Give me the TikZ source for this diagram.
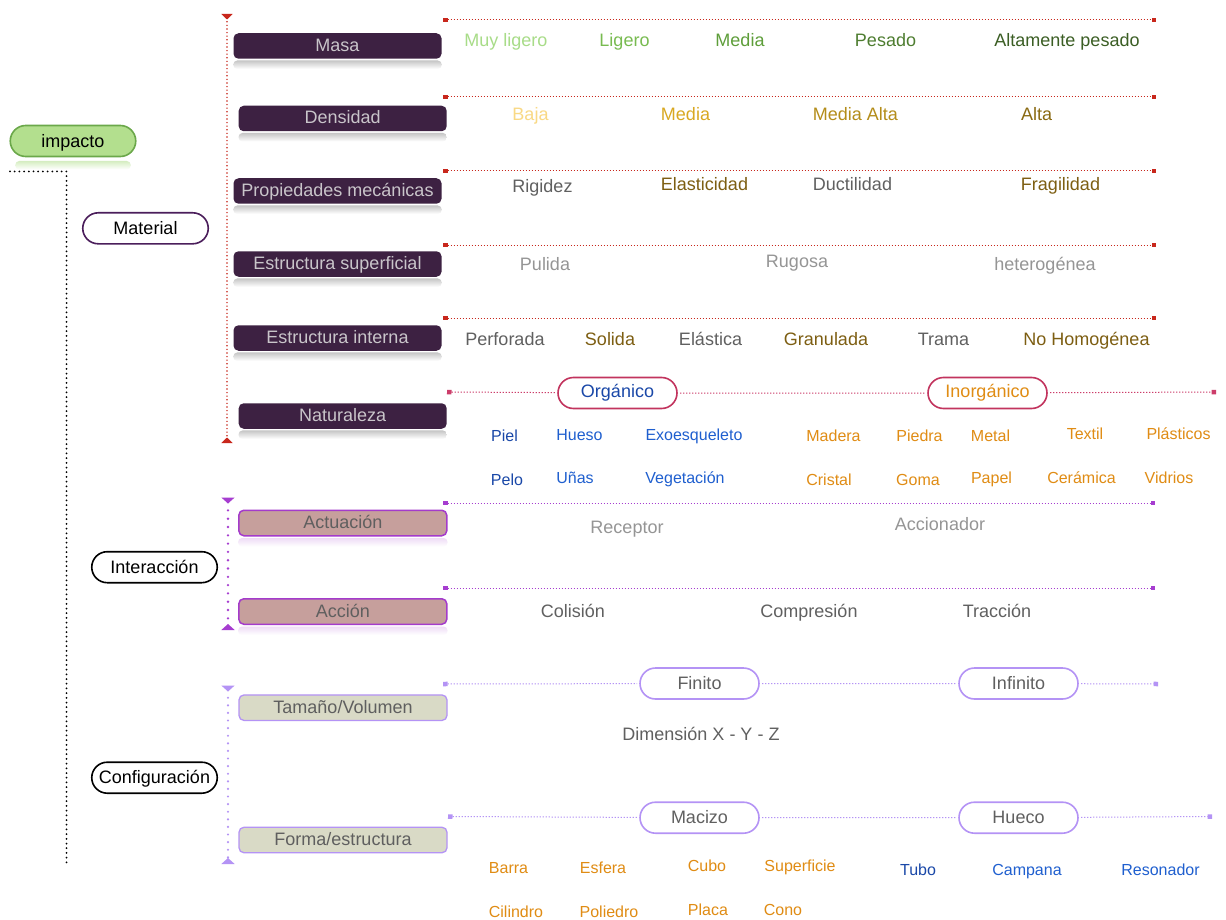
\documentclass[tikz,border=0pt]{standalone}
\usepackage{fontspec}
\setmainfont{Liberation Sans}
\usetikzlibrary{arrows.meta,shapes.misc}

\definecolor{matfill}{HTML}{3D2142}
\definecolor{mattext}{HTML}{C9C5CA}
\definecolor{intfill}{HTML}{C69F9C}
\definecolor{intdraw}{HTML}{A43BCB}
\definecolor{cfgfill}{HTML}{D9DAC6}
\definecolor{cfgdraw}{HTML}{B493F5}
\definecolor{boxgray}{HTML}{5F5F5F}
\definecolor{impfill}{HTML}{B3DF8E}
\definecolor{impdraw}{HTML}{6BA84A}
\definecolor{matpill}{HTML}{4B1E5B}
\definecolor{redline}{HTML}{C8271C}
\definecolor{natline}{HTML}{CC3D6A}
\definecolor{orgdraw}{HTML}{C2345E}
\definecolor{purpline}{HTML}{A63DD0}
\definecolor{lpurp}{HTML}{B493F5}
\definecolor{gA}{HTML}{A8DC88}
\definecolor{gB}{HTML}{78BB50}
\definecolor{gC}{HTML}{5E9E3A}
\definecolor{gD}{HTML}{4E7D30}
\definecolor{gE}{HTML}{3B5E24}
\definecolor{yA}{HTML}{F9D985}
\definecolor{yB}{HTML}{D9A822}
\definecolor{yC}{HTML}{B48D1A}
\definecolor{yD}{HTML}{8A6A12}
\definecolor{brownish}{HTML}{7D5E12}
\definecolor{dgray}{HTML}{606060}
\definecolor{lgray}{HTML}{959595}
\definecolor{blueA}{HTML}{1F5FCF}
\definecolor{blueB}{HTML}{1A48A8}
\definecolor{orangeA}{HTML}{E08C14}

\tikzset{
  every node/.style={font=\fontsize{18}{21}\selectfont, inner sep=0pt},
  boxbase/.style={rectangle, rounded corners=5pt, minimum width=208pt,
    minimum height=25.5pt, text height=13pt, text depth=2pt},
  matbox/.style={boxbase, fill=matfill, text=mattext},
  intbox/.style={boxbase, fill=intfill, draw=intdraw, line width=1.5pt, text=boxgray},
  cfgbox/.style={boxbase, fill=cfgfill, draw=cfgdraw, line width=1.3pt, text=boxgray},
  pill/.style={rounded rectangle, minimum width=119pt, minimum height=31pt,
    line width=1.6pt, fill=white, text height=13pt, text depth=2pt, outer sep=3pt},
  rootpill/.style={pill, text depth=0pt, minimum width=125.5pt},
  item/.style={anchor=base},
  smallitem/.style={anchor=base, font=\fontsize{16}{19}\selectfont},
  blackdots/.style={draw=black, line width=2pt, dash pattern=on 0pt off 4.7pt, line cap=round},
  vred/.style={draw=redline, line width=1.6pt, dash pattern=on 0pt off 3.6pt, line cap=round,
    {Triangle[reversed,width=11pt,length=5.5pt]}-{Triangle[reversed,width=11pt,length=5.5pt]}},
  vpurp/.style={draw=purpline, line width=2.6pt, dash pattern=on 0pt off 8.3pt, line cap=round,
    {Triangle[reversed,width=13pt,length=6pt]}-{Triangle[reversed,width=13pt,length=6pt]}},
  vlpurp/.style={draw=lpurp, line width=2.4pt, dash pattern=on 0pt off 7.6pt, line cap=round,
    {Triangle[reversed,width=13pt,length=6pt]}-{Triangle[reversed,width=13pt,length=6pt]}},
  hline/.style={line width=1pt, dash pattern=on 1.4pt off 1.6pt},
  sqtip/.tip={Square[length=4.5pt,width=4.5pt,line width=0pt]}
}

% soft mirrored glow under a box; #3 insets it from the box sides
\newcommand\mirrorbelow[3][0pt]{%
  \shade[top color=#3, bottom color=white, rounded corners=4pt]
    ([xshift=#1,yshift=-1.5pt]#2.west |- #2.south) rectangle
    ([xshift=-#1,yshift=-10pt]#2.east |- #2.south);}

\begin{document}
\begin{tikzpicture}[x=1pt,y=-1pt]
\useasboundingbox[fill=white] (0,0) rectangle (1226,920);

% ---- root and main branches ----
\node[rootpill, fill=impfill, draw=impdraw] (impacto) at (73,141) {impacto};
\mirrorbelow[8pt]{impacto}{impfill!55}
\node[rootpill, draw=matpill] (material) at (145.5,228.3) {Material};
\node[rootpill, draw=black] (interaccion) at (154.5,567.2) {Interacción};
\node[pill, draw=black, minimum width=125.5pt] (configuracion) at (154.5,777.7) {Configuración};

\coordinate (trunkA) at (10,171.5);
\coordinate (trunkB) at (66.5,864);
\draw[blackdots] (trunkA) -| (trunkB);

% ---- Material ----
\node[matbox] (masa) at (337.5,46) {Masa};
\node[matbox] (densidad) at (342.7,118.5) {Densidad};
\node[matbox] (propmec) at (337.5,191) {Propiedades mecánicas};
\node[matbox] (estsup) at (337.5,264) {Estructura superficial};
\node[matbox] (estint) at (337.5,338) {Estructura interna};
\node[matbox] (natur) at (342.7,416) {Naturaleza};
\foreach \b in {masa,densidad,propmec,estsup,estint,natur}{\mirrorbelow{\b}{gray!45}}

\coordinate (matTop) at (227,14);
\coordinate (matBot) at (227,443);
\draw[vred] (matTop) -- (matBot);

\coordinate (masaL) at (443,20);   \coordinate (masaR) at (1156,20);
\coordinate (densL) at (443,97);   \coordinate (densR) at (1156,97);
\coordinate (propL) at (443,171);  \coordinate (propR) at (1156,171);
\coordinate (supL) at (443,245);   \coordinate (supR) at (1156,245);
\coordinate (intL) at (443,318);   \coordinate (intR) at (1156,318);
\foreach \r in {masa,dens,prop,sup,int}{
  \draw[hline, draw=redline, sqtip-sqtip] (\r L) -- (\r R);}

\node[item, text=gA] (ma1) at (506,47) {Muy ligero};
\node[item, text=gB] (ma2) at (624.5,47) {Ligero};
\node[item, text=gC] (ma3) at (740,47) {Media};
\node[item, text=gD] (ma4) at (885.5,47) {Pesado};
\node[item, text=gE] (ma5) at (1067,47) {Altamente pesado};

\node[item, text=yA] (de1) at (530.5,121) {Baja};
\node[item, text=yB] (de2) at (685.5,121) {Media};
\node[item, text=yC] (de3) at (855.5,121) {Media Alta};
\node[item, text=yD] (de4) at (1036.5,121) {Alta};

\node[item, text=dgray] (pm1) at (542.5,193) {Rigidez};
\node[item, text=brownish] (pm2) at (704.5,191) {Elasticidad};
\node[item, text=dgray] (pm3) at (852.5,191) {Ductilidad};
\node[item, text=brownish] (pm4) at (1060.5,191) {Fragilidad};

\node[item, text=lgray] (su1) at (545,270) {Pulida};
\node[item, text=lgray] (su2) at (797,267) {Rugosa};
\node[item, text=lgray] (su3) at (1045,270) {heterogénea};

\node[item, text=dgray] (in1) at (505,345) {Perforada};
\node[item, text=brownish] (in2) at (610,345) {Solida};
\node[item, text=dgray] (in3) at (710.5,345) {Elástica};
\node[item, text=brownish] (in4) at (826,345) {Granulada};
\node[item, text=dgray] (in5) at (943.5,345) {Trama};
\node[item, text=brownish] (in6) at (1086.5,345) {No Homogénea};

% Naturaleza
\node[pill, draw=orgdraw, text=blueB, text depth=4pt] (organico) at (617.5,393) {Orgánico};
\node[pill, draw=orgdraw, text=orangeA, text depth=4pt] (inorganico) at (987.5,393) {Inorgánico};
\coordinate (natL) at (447,392); \coordinate (natR) at (1216,392);
\draw[hline, draw=natline, sqtip-] (natL) -- (organico);
\draw[hline, draw=natline] (organico) -- (inorganico);
\draw[hline, draw=natline, -sqtip] (inorganico) -- (natR);

\node[smallitem, text=blueB] (na1) at (504.5,441.5) {Piel};
\node[smallitem, text=blueA] (na2) at (579.5,440) {Hueso};
\node[smallitem, text=blueA] (na3) at (694,440) {Exoesqueleto};
\node[smallitem, text=blueB] (na4) at (507,485) {Pelo};
\node[smallitem, text=blueA] (na5) at (575,483) {Uñas};
\node[smallitem, text=blueA] (na6) at (685,483) {Vegetación};

\node[smallitem, text=orangeA] (nb1) at (833.5,441.5) {Madera};
\node[smallitem, text=orangeA] (nb2) at (919.5,441.5) {Piedra};
\node[smallitem, text=orangeA] (nb3) at (990.5,441.5) {Metal};
\node[smallitem, text=orangeA] (nb4) at (1085,439) {Textil};
\node[smallitem, text=orangeA] (nb5) at (1178.5,439) {Plásticos};
\node[smallitem, text=orangeA] (nb6) at (829,485) {Cristal};
\node[smallitem, text=orangeA] (nb7) at (918,485) {Goma};
\node[smallitem, text=orangeA] (nb8) at (991.5,483) {Papel};
\node[smallitem, text=orangeA] (nb9) at (1081.5,483) {Cerámica};
\node[smallitem, text=orangeA] (nb10) at (1169,483) {Vidrios};

% ---- Interacción ----
\node[intbox] (actuacion) at (342.8,523) {Actuación};
\node[intbox] (accion) at (342.8,611.5) {Acción};
\mirrorbelow{actuacion}{intdraw!18}
\mirrorbelow{accion}{intdraw!18}

\coordinate (intTop) at (228,497.5);
\coordinate (intBot) at (228,630);
\draw[vpurp] (intTop) -- (intBot);

\coordinate (actL) at (443,503); \coordinate (actR) at (1155,503);
\coordinate (accL) at (443,588); \coordinate (accR) at (1155,588);
\draw[hline, draw=purpline, sqtip-sqtip] (actL) -- (actR);
\draw[hline, draw=purpline, sqtip-sqtip] (accL) -- (accR);

\node[item, text=lgray] (ac1) at (627,533) {Receptor};
\node[item, text=lgray] (ac2) at (940,530) {Accionador};
\node[item, text=dgray] (cc1) at (573,617) {Colisión};
\node[item, text=dgray] (cc2) at (809,617) {Compresión};
\node[item, text=dgray] (cc3) at (997,617) {Tracción};

% ---- Configuración ----
\node[cfgbox] (tamano) at (343,707.7) {Tamaño/Volumen};
\node[cfgbox] (forma) at (343,840) {Forma/estructura};

\coordinate (cfgTop) at (228,685.5);
\coordinate (cfgBot) at (228,864);
\draw[vlpurp] (cfgTop) -- (cfgBot);

\node[pill, draw=lpurp, text=dgray] (finito) at (699.5,683.5) {Finito};
\node[pill, draw=lpurp, text=dgray] (infinito) at (1018.5,683.5) {Infinito};
\node[pill, draw=lpurp, text=dgray] (macizo) at (699.5,817.7) {Macizo};
\node[pill, draw=lpurp, text=dgray] (hueco) at (1018.5,817.7) {Hueco};

\coordinate (tamL) at (443,684); \coordinate (tamR) at (1158,684);
\coordinate (forL) at (448,816.5); \coordinate (forR) at (1212,816.5);
\draw[hline, draw=lpurp, sqtip-] (tamL) -- (finito);
\draw[hline, draw=lpurp] (finito) -- (infinito);
\draw[hline, draw=lpurp, -sqtip] (infinito) -- (tamR);
\draw[hline, draw=lpurp, sqtip-] (forL) -- (macizo);
\draw[hline, draw=lpurp] (macizo) -- (hueco);
\draw[hline, draw=lpurp, -sqtip] (hueco) -- (forR);

\node[item, text=dgray] (dim) at (701,740) {Dimensión X - Y - Z};

\node[smallitem, text=orangeA] (fo1) at (508.5,873) {Barra};
\node[smallitem, text=orangeA] (fo2) at (603,873) {Esfera};
\node[smallitem, text=orangeA] (fo3) at (707,871) {Cubo};
\node[smallitem, text=orangeA] (fo4) at (800,871) {Superficie};
\node[smallitem, text=orangeA] (fo5) at (516,917) {Cilindro};
\node[smallitem, text=orangeA] (fo6) at (609,917) {Poliedro};
\node[smallitem, text=orangeA] (fo7) at (708,915) {Placa};
\node[smallitem, text=orangeA] (fo8) at (783,915) {Cono};
\node[smallitem, text=blueB] (fo9) at (918,875) {Tubo};
\node[smallitem, text=blueA] (fo10) at (1027,875) {Campana};
\node[smallitem, text=blueA] (fo11) at (1160.5,875) {Resonador};
\end{tikzpicture}
\end{document}
